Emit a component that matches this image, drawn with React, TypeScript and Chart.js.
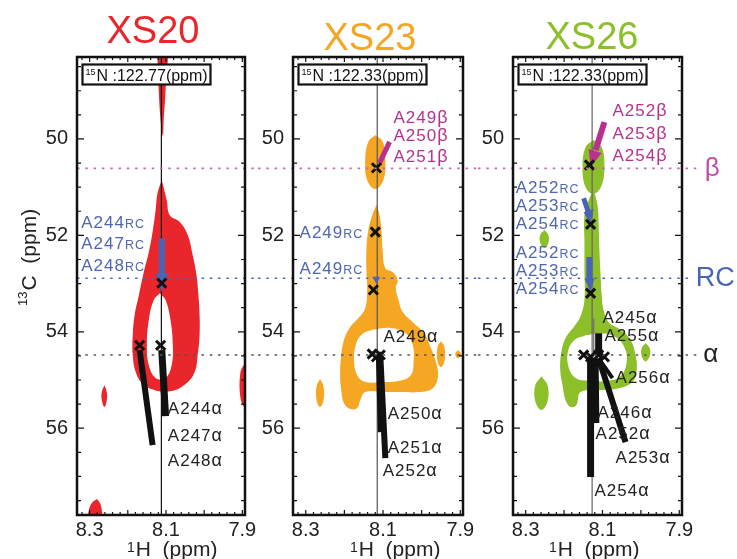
import { useEffect, useRef } from 'react';
import { Chart, registerables } from 'chart.js';

Chart.register(...registerables);

type Pt = [number, number]; // [1H ppm, 13C ppm]
type Tag = [string, string, number, number]; // residue, atom suffix, 1H, 13C

const FONT = '"Liberation Sans", Arial, Helvetica, sans-serif';

// ---------- shared axes ----------
const H_RANGE: Pt = [7.893, 8.333];
const C_RANGE: Pt = [48.3, 57.8];
const H_TICK_LABELS = [8.3, 8.1, 7.9];
const C_TICK_LABELS = [50, 52, 54, 56];

// reference 13C shifts: Ala Cβ, random-coil Cα, helical Cα
const GUIDE_SHIFTS = [50.61, 52.89, 54.48];
const GUIDE_NAMES = ['β', 'RC', 'α'];
const GUIDE_ENDS = [7.844, 7.875, 7.846];
const GUIDE_NAME_H = [7.834, 7.857, 7.838];

// ---------- XS20 (15N 122.77 ppm) ----------
const xs20Spike: Pt[] = [[8.124, 48.0], [8.098, 48.0], [8.101, 48.98], [8.106, 49.61], [8.108, 49.94], [8.114, 49.61], [8.119, 48.98]];
const xs20Body: Pt[] = [
  [8.111, 50.85], [8.098, 51.27], [8.090, 51.58], [8.064, 51.72], [8.043, 51.99], [8.030, 52.41], [8.020, 52.82],
  [8.015, 53.24], [8.012, 53.65], [8.012, 54.07], [8.017, 54.48], [8.025, 54.84], [8.048, 55.08], [8.085, 55.23],
  [8.129, 55.21], [8.161, 55.08], [8.179, 54.84], [8.187, 54.48], [8.187, 54.07], [8.182, 53.65], [8.171, 53.24],
  [8.158, 52.76], [8.145, 52.35], [8.135, 51.93], [8.127, 51.47], [8.122, 51.12],
];
const xs20Hole: Pt[] = [
  [8.116, 53.20], [8.101, 53.34], [8.088, 53.76], [8.082, 54.28], [8.085, 54.69], [8.101, 54.96],
  [8.127, 54.96], [8.145, 54.69], [8.150, 54.28], [8.145, 53.76], [8.132, 53.34],
];
const xs20SpeckA: Pt[] = [[8.261, 55.11], [8.255, 55.25], [8.255, 55.42], [8.261, 55.56], [8.268, 55.42], [8.268, 55.25]];
const xs20SpeckB: Pt[] = [[8.281, 57.47], [8.273, 57.55], [8.268, 57.70], [8.268, 57.95], [8.304, 57.95], [8.302, 57.70], [8.294, 57.55]];
const xs20SpeckC: Pt[] = [[7.894, 54.65], [7.884, 54.84], [7.884, 55.37], [7.894, 55.56], [7.905, 55.37], [7.905, 54.84]];
const xs20Slice = 8.112;
const xs20Peaks: Pt[] = [[8.169, 54.28], [8.114, 54.28], [8.111, 52.99]];
const xs20AlphaSticks: Pt[][] = [[[8.169, 54.38], [8.135, 56.35]], [[8.111, 54.38], [8.101, 55.75]]];
const xs20RcSticks: Pt[][] = [[[8.111, 52.06], [8.111, 52.84]]];
const xs20RcHeads: Pt[][] = [[[8.127, 52.78], [8.095, 52.78], [8.111, 53.18]]];
const xs20RcTags: Tag[] = [['A244', 'RC', 8.155, 51.72], ['A247', 'RC', 8.155, 52.16], ['A248', 'RC', 8.155, 52.62]];
const xs20AlphaTags: Tag[] = [['A244', 'α', 8.095, 55.58], ['A247', 'α', 8.095, 56.14], ['A248', 'α', 8.095, 56.66]];

// ---------- XS23 (15N 122.33 ppm) ----------
const xs23Top: Pt[] = [[8.120, 49.92], [8.101, 50.06], [8.094, 50.44], [8.099, 50.85], [8.120, 51.04], [8.141, 50.85], [8.146, 50.44], [8.138, 50.06]];
const xs23Body: Pt[] = [
  [8.117, 51.37], [8.109, 51.58], [8.104, 51.89], [8.101, 52.30], [8.094, 52.68], [8.075, 52.76], [8.062, 52.93],
  [8.067, 53.09], [8.060, 53.34], [8.049, 53.59], [8.023, 53.80], [7.994, 54.03], [7.976, 54.34], [7.963, 54.63],
  [7.958, 54.94], [7.971, 55.17], [8.007, 55.25], [8.054, 55.25], [8.094, 55.25], [8.146, 55.25], [8.159, 55.42],
  [8.167, 55.58], [8.185, 55.60], [8.201, 55.48], [8.208, 55.21], [8.211, 54.84], [8.208, 54.48], [8.201, 54.17],
  [8.185, 53.90], [8.164, 53.72], [8.146, 53.51], [8.141, 53.13], [8.143, 52.72], [8.143, 52.30], [8.138, 51.89],
  [8.128, 51.58],
];
const xs23Hole: Pt[] = [
  [8.128, 53.96], [8.081, 53.92], [8.041, 54.03], [8.023, 54.28], [8.021, 54.63], [8.028, 54.90], [8.060, 55.02],
  [8.107, 55.04], [8.146, 55.04], [8.167, 54.90], [8.175, 54.59], [8.169, 54.23], [8.154, 54.05],
];
const xs23SpeckA: Pt[] = [[8.263, 54.98], [8.254, 55.13], [8.254, 55.42], [8.263, 55.56], [8.272, 55.42], [8.272, 55.13]];
const xs23SpeckB: Pt[] = [[7.950, 54.19], [7.941, 54.32], [7.941, 54.61], [7.950, 54.73], [7.959, 54.61], [7.959, 54.32]];
const xs23SpeckC: Pt[] = [[7.906, 54.38], [7.898, 54.46], [7.906, 54.55], [7.913, 54.46]];
const xs23Slice = 8.115;
const xs23Peaks: Pt[] = [[8.117, 50.60], [8.120, 51.93], [8.125, 53.13], [8.128, 54.46], [8.117, 54.52], [8.107, 54.48]];
const xs23AlphaSticks: Pt[][] = [[[8.112, 54.50], [8.107, 56.08]], [[8.107, 54.50], [8.094, 56.62]]];
const xs23BetaSticks: Pt[][] = [[[8.083, 50.06], [8.109, 50.50]]];
const xs23RcHeads: Pt[][] = [[[8.128, 52.86], [8.107, 52.86], [8.117, 53.01]]];
const xs23BetaTags: Tag[] = [['A249', 'β', 8.073, 49.55], ['A250', 'β', 8.073, 49.92], ['A251', 'β', 8.073, 50.35]];
const xs23RcTags: Tag[] = [['A249', 'RC', 8.151, 51.93], ['A249', 'RC', 8.151, 52.68]];
const xs23AlphaTags: Tag[] = [['A249', 'α', 8.099, 54.09], ['A250', 'α', 8.088, 55.69], ['A251', 'α', 8.088, 56.39], ['A252', 'α', 8.101, 56.87]];

// ---------- XS26 (15N 122.33 ppm) ----------
const xs26Top: Pt[] = [[8.123, 50.02], [8.102, 50.17], [8.095, 50.54], [8.102, 50.96], [8.123, 51.14], [8.144, 51.00], [8.152, 50.58], [8.144, 50.17]];
const xs26Body: Pt[] = [
  [8.123, 51.06], [8.113, 51.37], [8.110, 51.79], [8.108, 52.30], [8.105, 52.82], [8.102, 53.24], [8.097, 53.55],
  [8.084, 53.80], [8.053, 53.96], [8.027, 54.17], [8.014, 54.48], [8.011, 54.79], [8.022, 55.04], [8.058, 55.17],
  [8.105, 55.21], [8.157, 55.25], [8.168, 55.52], [8.183, 55.56], [8.196, 55.42], [8.204, 55.11], [8.210, 54.79],
  [8.207, 54.42], [8.196, 54.13], [8.173, 53.88], [8.157, 53.67], [8.147, 53.34], [8.147, 52.72], [8.147, 52.10],
  [8.147, 51.58], [8.136, 51.27],
];
const xs26Hole: Pt[] = [
  [8.144, 54.07], [8.105, 54.03], [8.066, 54.11], [8.042, 54.34], [8.037, 54.63], [8.053, 54.92],
  [8.092, 55.02], [8.131, 55.02], [8.170, 54.96], [8.189, 54.71], [8.189, 54.38], [8.173, 54.17],
];
const xs26SpeckA: Pt[] = [[8.251, 51.89], [8.241, 51.99], [8.241, 52.16], [8.251, 52.26], [8.262, 52.16], [8.262, 51.99]];
const xs26SpeckB: Pt[] = [[8.259, 54.92], [8.243, 55.11], [8.243, 55.44], [8.259, 55.62], [8.275, 55.44], [8.275, 55.11]];
const xs26SpeckC: Pt[] = [[7.988, 54.23], [7.977, 54.34], [7.977, 54.50], [7.988, 54.61], [7.998, 54.50], [7.998, 54.34]];
const xs26Slice = 8.127;
const xs26Peaks: Pt[] = [[8.134, 50.54], [8.131, 51.77], [8.131, 53.20], [8.149, 54.48], [8.131, 54.52], [8.110, 54.48], [8.095, 54.52]];
const xs26AlphaSticks: Pt[][] = [
  [[8.110, 54.50], [8.110, 54.03]],
  [[8.110, 54.55], [8.074, 54.96]],
  [[8.110, 54.55], [8.040, 56.29]],
  [[8.131, 54.55], [8.131, 57.01]],
  [[8.118, 54.55], [8.116, 55.89]],
];
const xs26FaintSticks: Pt[][] = [[[8.123, 54.52], [8.123, 53.72]]];
const xs26BetaSticks: Pt[][] = [[[8.095, 49.65], [8.118, 50.23]]];
const xs26BetaHeads: Pt[][] = [[[8.136, 50.21], [8.102, 50.29], [8.131, 50.58]]];
const xs26RcSticks: Pt[][] = [[[8.149, 51.23], [8.136, 51.54]], [[8.134, 52.45], [8.134, 52.93]]];
const xs26RcHeads: Pt[][] = [[[8.149, 51.52], [8.123, 51.45], [8.131, 51.77]], [[8.147, 52.89], [8.121, 52.89], [8.131, 53.18]]];
const xs26BetaTags: Tag[] = [['A252', 'β', 8.074, 49.40], ['A253', 'β', 8.074, 49.88], ['A254', 'β', 8.074, 50.33]];
const xs26RcTags: Tag[] = [
  ['A252', 'RC', 8.160, 51.00], ['A253', 'RC', 8.160, 51.37], ['A254', 'RC', 8.160, 51.74],
  ['A252', 'RC', 8.160, 52.35], ['A253', 'RC', 8.160, 52.72], ['A254', 'RC', 8.160, 53.09],
];
const xs26AlphaTags: Tag[] = [
  ['A245', 'α', 8.100, 53.69], ['A255', 'α', 8.095, 54.07], ['A256', 'α', 8.066, 54.94], ['A246', 'α', 8.113, 55.67],
  ['A252', 'α', 8.118, 56.10], ['A253', 'α', 8.066, 56.60], ['A254', 'α', 8.121, 57.28],
];

// ---------- colours ----------
const RED = '#e8262b';
const ORANGE = '#f5a623';
const GREEN = '#8dbf2a';
const INK = '#111111';
const BLUE = '#4a64b5';
const BLUE_TEXT = '#5066b2';
const PINK = '#b8318f';
const GUIDE_COLORS = ['#c86ab8', '#4f67b6', '#555555'];

interface StickGroup { lines: Pt[][]; widths: number[]; color: string }
interface HeadGroup { shapes: Pt[][]; color: string }
interface TagGroup { tags: Tag[]; align: 'left' | 'right'; color: string }
interface Panel {
  name: string; color: string; nitrogen: string;
  canvasX: number; canvasW: number; plotLeft: number; plotRight: number;
  titleX: number; titleBase: number; xTitleX: number;
  yTitle: boolean; guideFromPlot: boolean; lastPanel: boolean;
  slice: number; sliceColor: string;
  outlines: Pt[][]; holes: Pt[][]; peaks: Pt[];
  sticks: StickGroup[]; heads: HeadGroup[]; tags: TagGroup[];
}

const PANELS: Panel[] = [
  {
    name: 'XS20', color: RED, nitrogen: ':122.77(ppm)',
    canvasX: 0, canvasW: 258, plotLeft: 77, plotRight: 245,
    titleX: 153, titleBase: 43, xTitleX: 127,
    yTitle: true, guideFromPlot: true, lastPanel: false,
    slice: xs20Slice, sliceColor: '#111',
    outlines: [xs20Spike, xs20Body, xs20SpeckA, xs20SpeckB, xs20SpeckC], holes: [xs20Hole], peaks: xs20Peaks,
    sticks: [
      { lines: xs20AlphaSticks, widths: [6, 7], color: INK },
      { lines: xs20RcSticks, widths: [6], color: BLUE },
    ],
    heads: [{ shapes: xs20RcHeads, color: BLUE }],
    tags: [
      { tags: xs20RcTags, align: 'right', color: BLUE_TEXT },
      { tags: xs20AlphaTags, align: 'left', color: '#222' },
    ],
  },
  {
    name: 'XS23', color: ORANGE, nitrogen: ':122.33(ppm)',
    canvasX: 258, canvasW: 220, plotLeft: 35, plotRight: 205,
    titleX: 112, titleBase: 50, xTitleX: 92,
    yTitle: false, guideFromPlot: false, lastPanel: false,
    slice: xs23Slice, sliceColor: '#555',
    outlines: [xs23Top, xs23Body, xs23SpeckA, xs23SpeckB, xs23SpeckC], holes: [xs23Hole], peaks: xs23Peaks,
    sticks: [
      { lines: xs23AlphaSticks, widths: [5, 6], color: INK },
      { lines: xs23BetaSticks, widths: [5], color: PINK },
    ],
    heads: [{ shapes: xs23RcHeads, color: BLUE }],
    tags: [
      { tags: xs23BetaTags, align: 'left', color: PINK },
      { tags: xs23RcTags, align: 'right', color: BLUE_TEXT },
      { tags: xs23AlphaTags, align: 'left', color: '#222' },
    ],
  },
  {
    name: 'XS26', color: GREEN, nitrogen: ':122.33(ppm)',
    canvasX: 478, canvasW: 259, plotLeft: 35, plotRight: 204,
    titleX: 114, titleBase: 49, xTitleX: 71,
    yTitle: false, guideFromPlot: false, lastPanel: true,
    slice: xs26Slice, sliceColor: '#666',
    outlines: [xs26Top, xs26Body, xs26SpeckA, xs26SpeckB, xs26SpeckC], holes: [xs26Hole], peaks: xs26Peaks,
    sticks: [
      { lines: xs26AlphaSticks, widths: [7, 4, 6, 7, 6], color: INK },
      { lines: xs26FaintSticks, widths: [1.5], color: '#777' },
      { lines: xs26BetaSticks, widths: [6], color: PINK },
      { lines: xs26RcSticks, widths: [5, 6], color: BLUE },
    ],
    heads: [{ shapes: xs26BetaHeads, color: PINK }, { shapes: xs26RcHeads, color: BLUE }],
    tags: [
      { tags: xs26BetaTags, align: 'left', color: PINK },
      { tags: xs26RcTags, align: 'right', color: BLUE_TEXT },
      { tags: xs26AlphaTags, align: 'left', color: '#222' },
    ],
  },
];

const toXY = (pts: Pt[]) => pts.map(([x, y]) => ({ x, y }));

function area(pts: Pt[], color: string, order: number, tension = 0.4) {
  return {
    data: toXY([...pts, pts[0]]), borderWidth: 0, borderColor: color, backgroundColor: color,
    fill: 'shape', tension, pointRadius: 0, order,
  };
}

function stroke(pts: Pt[], color: string, width: number, order: number) {
  return {
    data: toXY(pts), borderWidth: width, borderColor: color, backgroundColor: color,
    borderCapStyle: 'butt', fill: false, tension: 0, pointRadius: 0, order,
  };
}

function drawTag(ctx: CanvasRenderingContext2D, x: number, y: number, stem: string, suffix: string, align: string, color: string) {
  ctx.save();
  ctx.fillStyle = color;
  ctx.textAlign = 'left';
  ctx.textBaseline = 'alphabetic';
  (ctx as any).letterSpacing = '1px';
  const big = `17px ${FONT}`;
  const small = suffix === 'RC' ? `12.5px ${FONT}` : `18px ${FONT}`;
  ctx.font = big;
  const w1 = ctx.measureText(stem).width;
  ctx.font = small;
  const w2 = ctx.measureText(suffix).width;
  const x0 = align === 'right' ? x - w1 - w2 : x;
  const base = y + 6;
  ctx.font = big;
  ctx.fillText(stem, x0, base);
  ctx.font = small;
  ctx.fillText(suffix, x0 + w1, base);
  ctx.restore();
}

function decor(p: Panel) {
  return {
    id: 'spectrumDecor',
    afterDatasetsDraw(chart: any) {
      const { ctx, chartArea: a } = chart;
      const xs = chart.scales.x;
      const ys = chart.scales.y;
      ctx.save();

      // dotted reference shifts running across the figure
      GUIDE_SHIFTS.forEach((c, i) => {
        const py = ys.getPixelForValue(c);
        const x0 = p.guideFromPlot ? a.left : 0;
        const x1 = p.lastPanel ? xs.getPixelForValue(GUIDE_ENDS[i]) : chart.width;
        ctx.beginPath();
        ctx.setLineDash([2.5, 5.8]);
        ctx.lineWidth = 1.6;
        ctx.strokeStyle = GUIDE_COLORS[i];
        ctx.moveTo(x0, py);
        ctx.lineTo(x1, py);
        ctx.stroke();
      });
      ctx.setLineDash([]);

      if (p.lastPanel) {
        const sizes = [26, 27, 26];
        const colors = ['#c04aa8', '#4a64b5', '#222'];
        GUIDE_NAMES.forEach((n, i) => {
          ctx.font = `${sizes[i]}px ${FONT}`;
          ctx.fillStyle = colors[i];
          ctx.textAlign = 'left';
          ctx.textBaseline = 'middle';
          ctx.fillText(n, xs.getPixelForValue(GUIDE_NAME_H[i]), ys.getPixelForValue(GUIDE_SHIFTS[i]));
        });
      }

      // assignment labels
      p.tags.forEach((g) => g.tags.forEach(([stem, suf, h, c]) => {
        drawTag(ctx, xs.getPixelForValue(h), ys.getPixelForValue(c), stem, suf, g.align, g.color);
      }));

      // frame
      ctx.strokeStyle = INK;
      ctx.lineWidth = 2.5;
      ctx.strokeRect(a.left, a.top, a.right - a.left, a.bottom - a.top);

      // inward ticks on all four sides
      ctx.lineWidth = 1.2;
      ctx.beginPath();
      for (let k = 0; k <= 21; k++) {
        const v = 7.9 + k * 0.02;
        const px = xs.getPixelForValue(v);
        const len = k % 5 === 0 ? 5 : 3;
        ctx.moveTo(px, a.bottom); ctx.lineTo(px, a.bottom - len);
        ctx.moveTo(px, a.top); ctx.lineTo(px, a.top + len);
      }
      for (let k = 0; k <= 18; k++) {
        const v = 48.5 + k * 0.5;
        const py = ys.getPixelForValue(v);
        const len = v % 2 === 0 ? 7 : 4;
        ctx.moveTo(a.left, py); ctx.lineTo(a.left + len, py);
        ctx.moveTo(a.right, py); ctx.lineTo(a.right - len, py);
      }
      ctx.stroke();

      // tick labels
      ctx.fillStyle = '#222';
      ctx.font = `20px ${FONT}`;
      ctx.textAlign = 'right';
      ctx.textBaseline = 'middle';
      C_TICK_LABELS.forEach((v) => ctx.fillText(String(v), a.left - 9, ys.getPixelForValue(v)));
      ctx.textAlign = 'center';
      ctx.textBaseline = 'alphabetic';
      H_TICK_LABELS.forEach((v) => ctx.fillText(v.toFixed(1), xs.getPixelForValue(v), 536));

      // 1H axis title
      ctx.textAlign = 'left';
      ctx.font = `14px ${FONT}`;
      ctx.fillText('1', p.xTitleX, 552);
      const w1 = ctx.measureText('1').width;
      ctx.font = `21px ${FONT}`;
      ctx.fillText('H  (ppm)', p.xTitleX + w1 + 1, 556);

      // 13C axis title
      if (p.yTitle) {
        ctx.save();
        ctx.translate(36, 306);
        ctx.rotate(-Math.PI / 2);
        ctx.font = `13px ${FONT}`;
        ctx.fillText('13', 0, -9);
        const w13 = ctx.measureText('13').width;
        ctx.font = `21px ${FONT}`;
        ctx.fillText('C  (ppm)', w13 + 1, 0);
        ctx.restore();
      }

      // 15N plane box
      const bx = a.left + 5.5;
      const by = 64.5;
      ctx.fillStyle = '#fff';
      ctx.fillRect(bx, by, 128, 20);
      ctx.lineWidth = 2.2;
      ctx.strokeStyle = INK;
      ctx.strokeRect(bx, by, 128, 20);
      ctx.fillStyle = INK;
      ctx.font = `9px ${FONT}`;
      ctx.fillText('15', bx + 3, by + 10);
      const w15 = ctx.measureText('15').width;
      ctx.font = `16px ${FONT}`;
      ctx.fillText('N ' + p.nitrogen, bx + 4 + w15, by + 16.5);

      // sample title
      ctx.fillStyle = p.color;
      ctx.font = `38px ${FONT}`;
      ctx.textAlign = 'center';
      ctx.fillText(p.name, p.titleX, p.titleBase);

      ctx.restore();
    },
  };
}

function buildConfig(p: Panel): any {
  const datasets: any[] = [];
  p.outlines.forEach((o) => datasets.push(area(o, p.color, 10)));
  p.holes.forEach((h) => datasets.push(area(h, '#ffffff', 9)));
  datasets.push(stroke([[p.slice, 47], [p.slice, 59]], p.sliceColor, 1.2, 8));
  p.sticks.forEach((g) => g.lines.forEach((l, i) => datasets.push(stroke(l, g.color, g.widths[i], 6))));
  p.heads.forEach((g) => g.shapes.forEach((s) => datasets.push(area(s, g.color, 5, 0))));
  datasets.push({
    data: toXY(p.peaks), showLine: false, pointStyle: 'crossRot', pointRadius: 6.5,
    pointBorderWidth: 3, pointBorderColor: INK, pointBackgroundColor: INK, order: 1,
  });

  return {
    type: 'line',
    data: { datasets },
    options: {
      animation: false,
      responsive: false,
      maintainAspectRatio: false,
      events: [],
      layout: { padding: { left: 0, top: 57, right: p.canvasW - p.plotRight, bottom: 0 } },
      plugins: { legend: { display: false }, tooltip: { enabled: false } },
      scales: {
        x: {
          type: 'linear', reverse: true, min: H_RANGE[0], max: H_RANGE[1],
          grid: { display: false, drawTicks: false }, border: { display: false }, ticks: { display: false },
          afterFit: (s: any) => { s.height = 44; },
        },
        y: {
          type: 'linear', reverse: true, min: C_RANGE[0], max: C_RANGE[1],
          grid: { display: false, drawTicks: false }, border: { display: false }, ticks: { display: false },
          afterFit: (s: any) => { s.width = p.plotLeft; },
        },
      },
    },
    plugins: [decor(p)],
  };
}

export default function App() {
  const r0 = useRef<HTMLCanvasElement>(null);
  const r1 = useRef<HTMLCanvasElement>(null);
  const r2 = useRef<HTMLCanvasElement>(null);
  const refs = [r0, r1, r2];

  useEffect(() => {
    const charts = PANELS.map((p, i) => new Chart(refs[i].current as HTMLCanvasElement, buildConfig(p)));
    return () => charts.forEach((c) => c.destroy());
  }, []);

  return (
    <div style={{ position: 'absolute', left: 0, top: 0, width: 737, height: 559, background: '#fff', overflow: 'hidden' }}>
      {PANELS.map((p, i) => (
        <canvas
          key={p.name}
          ref={refs[i]}
          width={p.canvasW}
          height={559}
          style={{ position: 'absolute', left: p.canvasX, top: 0, width: p.canvasW, height: 559 }}
        />
      ))}
    </div>
  );
}
